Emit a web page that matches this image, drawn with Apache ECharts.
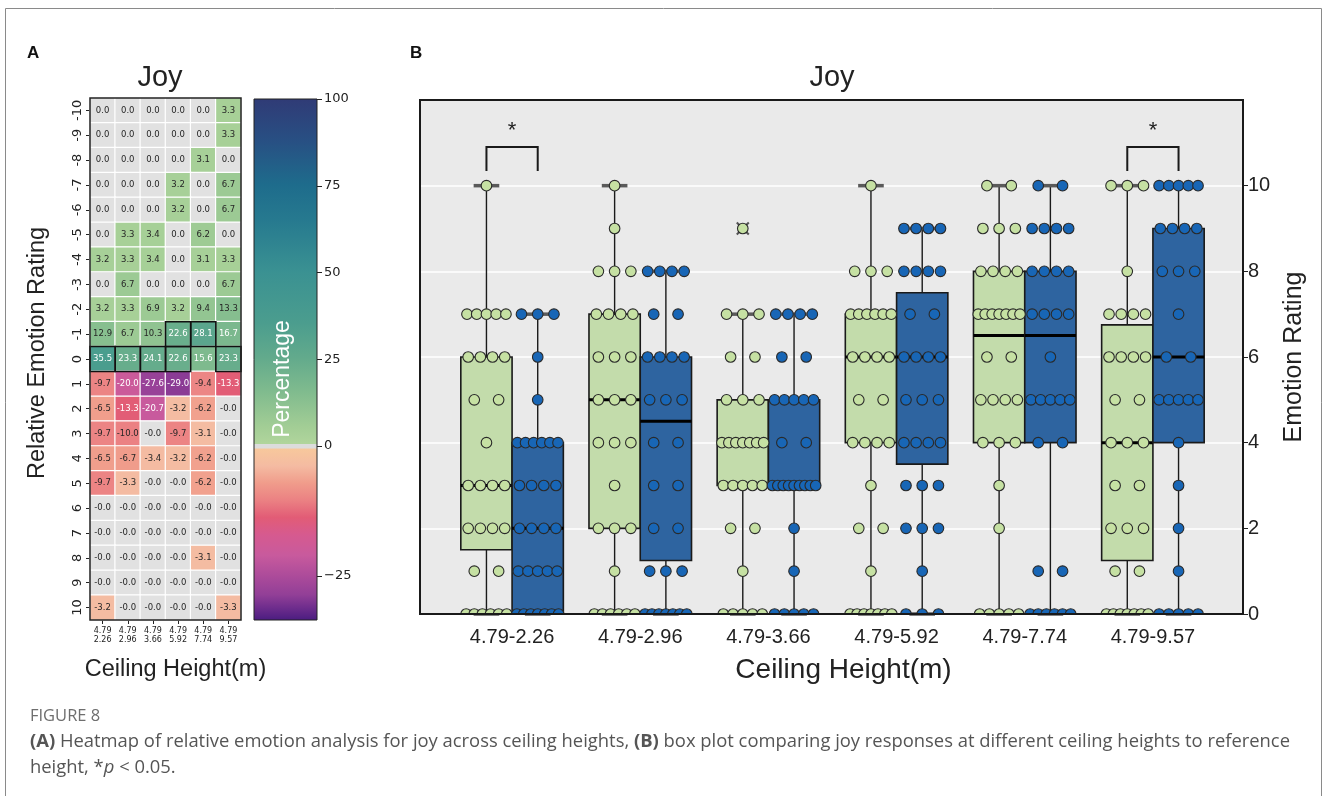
<!DOCTYPE html>
<html><head><meta charset="utf-8">
<script src="https://cdn.jsdelivr.net/npm/echarts@6/dist/echarts.min.js"></script>
<style>html,body{margin:0;padding:0;background:#fff}#c{width:1328px;height:796px}</style>
</head><body><div id="c"></div>
<script>
// ---------------- DATA ----------------
const refHeight = '4.79';
const heights = ['2.26', '2.96', '3.66', '5.92', '7.74', '9.57'];
const ratingRows = [-10,-9,-8,-7,-6,-5,-4,-3,-2,-1,0,1,2,3,4,5,6,7,8,9,10];
// heatmap percentages, one row per relative rating (-10 .. 10), one column per height
const heatRows = [
  [0.0, 0.0, 0.0, 0.0, 0.0, 3.3],
  [0.0, 0.0, 0.0, 0.0, 0.0, 3.3],
  [0.0, 0.0, 0.0, 0.0, 3.1, 0.0],
  [0.0, 0.0, 0.0, 3.2, 0.0, 6.7],
  [0.0, 0.0, 0.0, 3.2, 0.0, 6.7],
  [0.0, 3.3, 3.4, 0.0, 6.2, 0.0],
  [3.2, 3.3, 3.4, 0.0, 3.1, 3.3],
  [0.0, 6.7, 0.0, 0.0, 0.0, 6.7],
  [3.2, 3.3, 6.9, 3.2, 9.4, 13.3],
  [12.9, 6.7, 10.3, 22.6, 28.1, 16.7],
  [35.5, 23.3, 24.1, 22.6, 15.6, 23.3],
  [-9.7, -20.0, -27.6, -29.0, -9.4, -13.3],
  [-6.5, -13.3, -20.7, -3.2, -6.2, -0.0],
  [-9.7, -10.0, -0.0, -9.7, -3.1, -0.0],
  [-6.5, -6.7, -3.4, -3.2, -6.2, -0.0],
  [-9.7, -3.3, -0.0, -0.0, -6.2, -0.0],
  [-0.0, -0.0, -0.0, -0.0, -0.0, -0.0],
  [-0.0, -0.0, -0.0, -0.0, -0.0, -0.0],
  [-0.0, -0.0, -0.0, -0.0, -3.1, -0.0],
  [-0.0, -0.0, -0.0, -0.0, -0.0, -0.0],
  [-3.2, -0.0, -0.0, -0.0, -0.0, -3.3]
];
const highlightAbove = 20;          // cells outlined in black
const cbMax = 100, cbMin = -33.5;   // colour-bar range (two-slope)
const cbTicksNeg = [-25];

// box plot: [min, Q1, median, Q3, max] per height
const boxGreen = [[0,1.5,3,6,10],[0,2,5,7,10],[0,3,4,5,7],[0,4,6,7,10],[0,4,6.5,8,10],[0,1.25,4,6.75,10]];
const boxBlue  = [[0,0,2,4,7],[0,1.25,4.5,6,8],[0,3,3,5,7],[0,3.5,6,7.5,9],[0,4,6.5,8,10],[0,4,6,9,10]];
const outliersGreen = [[2, 9]];
const sigGroups = [0, 5];
const bracketLevel = 10.9;
const yTicks = [0, 2, 4, 6, 8, 10];
// individual ratings (strip points)
const ptsGreen = [
  [0,0,0,0,0,0,1,1,2,2,2,2,3,3,3,3,4,5,5,6,6,6,6,7,7,7,7,7,10],
  [0,0,0,0,0,0,1,2,2,2,3,4,4,4,5,5,5,6,6,6,7,7,7,7,8,8,8,9,10],
  [0,0,0,0,0,1,2,2,3,3,3,3,3,4,4,4,4,4,4,4,5,5,5,6,6,7,7,7,9],
  [0,0,0,0,0,0,0,1,2,2,3,4,4,4,4,5,5,6,6,6,6,7,7,7,7,7,7,8,8,8,10],
  [0,0,0,0,0,2,3,4,4,4,5,5,5,5,6,6,7,7,7,7,7,7,7,8,8,8,8,9,9,9,10,10],
  [0,0,0,0,0,0,0,1,1,2,2,2,3,3,4,4,4,5,5,6,6,6,6,7,7,7,7,8,10,10,10]
];
const ptsBlue = [
  [0,0,0,0,0,0,0,1,1,1,1,1,2,2,2,2,3,3,3,3,4,4,4,4,4,4,5,6,7,7,7],
  [0,0,0,0,0,0,0,1,1,1,2,2,3,3,4,4,5,5,5,6,6,6,6,7,7,8,8,8,8],
  [0,0,0,0,0,1,2,3,3,3,3,3,3,3,3,3,4,4,5,5,5,5,5,6,6,7,7,7,7],
  [0,0,0,1,2,2,2,3,3,3,4,4,4,4,5,5,5,6,6,6,6,7,7,8,8,8,8,9,9,9,9],
  [0,0,0,0,0,0,1,1,4,4,5,5,5,5,5,6,7,7,7,7,8,8,8,8,9,9,9,9,10,10],
  [0,0,0,0,0,1,2,3,4,5,5,5,5,5,6,6,7,8,8,8,9,9,9,9,10,10,10,10,10]
];

// ---------------- COLOURS ----------------
const posStops = [[0,'#b0d59c'],[0.05,'#a2cd95'],[0.15,'#80bb8e'],[0.25,'#62aa8c'],[0.35,'#4b9d8e'],[0.5,'#3a9192'],[0.65,'#26798f'],[0.75,'#1e6c8c'],[0.88,'#284f83'],[1,'#303b76']];
const negStops = [[0,'#f7c89c'],[0.1,'#f4bba2'],[0.2,'#f09c8b'],[0.3,'#eb8183'],[0.4,'#e25c76'],[0.5,'#d65a8f'],[0.62,'#c85a9d'],[0.75,'#aa4a9a'],[0.85,'#923f97'],[0.93,'#6c2c8c'],[1,'#4a1c80']];
const zeroColor = '#e1e1e1';
const GREEN_BOX = '#c3dcab', BLUE_BOX = '#2e64a0', GREEN_PT = '#c6e1a3', BLUE_PT = '#1866b6';

function rgb(h){return [1,3,5].map(i=>parseInt(h.slice(i,i+2),16));}
function interp(stops,t){
  t=Math.max(0,Math.min(1,t));
  for(let i=1;i<stops.length;i++){
    if(t<=stops[i][0]){
      const a=stops[i-1],b=stops[i],u=(t-a[0])/(b[0]-a[0]);
      const ca=rgb(a[1]),cb=rgb(b[1]);
      return 'rgb('+ca.map((c,k)=>Math.round(c+(cb[k]-c)*u)).join(',')+')';
    }
  }
  return stops[stops.length-1][1];
}
function cellColor(v){
  if(v===0) return zeroColor;
  return v>0 ? interp(posStops, v/cbMax) : interp(negStops, v/cbMin);
}
function fmt(v){return (Object.is(v,-0)||v<0?'-':'')+Math.abs(v).toFixed(1);}

// heatmap items
const heatData = [];
const hlData = [];
heatRows.forEach((row,r)=>row.forEach((v,c)=>{
  heatData.push({value:[c,r,v], txt:fmt(v), itemStyle:{color:cellColor(v)},
    label:{color:(v>15||v<-12)?'#ffffff':'#262626'}});
  if(v>highlightAbove) hlData.push([c,r]);
}));

// colour-bar layout (two slopes) and gradient built from the same colour maps
const CB_TOP = 99, CB_UP_H = 347, CB_LO_H = 174;
const zeroFrac = CB_UP_H/(CB_UP_H+CB_LO_H);
const cbStops = [];
posStops.slice().reverse().forEach(s=>cbStops.push({offset:(1-s[0])*(zeroFrac-0.005), color:s[1]}));
cbStops.push({offset:zeroFrac-0.004, color:'#dcdcdc'});
cbStops.push({offset:zeroFrac+0.004, color:'#dcdcdc'});
negStops.forEach(s=>cbStops.push({offset:zeroFrac+0.005+s[0]*(1-zeroFrac-0.005), color:s[1]}));

// strip points: spread equal ratings across the box width
function buildPts(lists){
  const out=[];
  lists.forEach((vals,g)=>{
    const counts={};vals.forEach(v=>counts[v]=(counts[v]||0)+1);
    const seen={};
    vals.forEach(v=>{
      const k=counts[v],i=(seen[v]=(seen[v]||0)+1)-1;
      const f=k===1?0:((i+0.5)/k-0.5);
      out.push([g,v,f]);
    });
  });
  return out;
}
const boxCats = heights.map(h=>refHeight+'-'+h);
const heatXLabels = heights.map(h=>refHeight+'\n'+h);

// ---------------- RENDER HELPERS ----------------
const BOXFRAC = 0.4;
function boxRender(side, fill){
  return function(params, api){
    const g=api.value(0);
    const mn=api.value(1),q1=api.value(2),md=api.value(3),q3=api.value(4),mx=api.value(5);
    const band=api.size([1,0])[0], bw=band*BOXFRAC;
    const cx=api.coord([g,0])[0]+side*bw/2;
    const y=v=>api.coord([g,v])[1];
    const capW=bw*0.5;
    return {type:'group',children:[
      {type:'line',shape:{x1:cx,y1:y(mn),x2:cx,y2:y(q1)},style:{stroke:'#1a1a1a',lineWidth:1.4}},
      {type:'line',shape:{x1:cx,y1:y(q3),x2:cx,y2:y(mx)},style:{stroke:'#1a1a1a',lineWidth:1.4}},
      {type:'rect',shape:{x:cx-bw/2,y:y(q3),width:bw,height:y(q1)-y(q3)},style:{fill:fill,stroke:'#1a1a1a',lineWidth:1.6}},
      {type:'line',shape:{x1:cx-bw/2,y1:y(md),x2:cx+bw/2,y2:y(md)},style:{stroke:'#000',lineWidth:3}},
      {type:'line',shape:{x1:cx-capW/2,y1:y(mx),x2:cx+capW/2,y2:y(mx)},style:{stroke:'#5a5a5a',lineWidth:3.5}},
      {type:'line',shape:{x1:cx-capW/2,y1:y(mn),x2:cx+capW/2,y2:y(mn)},style:{stroke:'#5a5a5a',lineWidth:3.5}}
    ]};
  };
}
function ptRender(side, fill){
  return function(params, api){
    const g=api.value(0),v=api.value(1),f=api.value(2);
    const band=api.size([1,0])[0], bw=band*BOXFRAC;
    const p=api.coord([g,v]);
    return {type:'circle',shape:{cx:p[0]+side*bw/2+f*bw*0.95,cy:p[1],r:5.3},
      style:{fill:fill,stroke:'#2a2a2a',lineWidth:1.1}};
  };
}

const chart = echarts.init(document.getElementById('c'), null, {renderer:'canvas'});
const F = 'Liberation Sans, Arial, sans-serif';
const DJ = 'DejaVu Sans, sans-serif';
const CAP = 'Open Sans, sans-serif';

const option = {
  backgroundColor:'#ffffff',
  animation:false,
  grid:[
    {left:90, top:98, width:151, height:522},
    {left:254, top:CB_TOP, width:63, height:CB_UP_H},
    {left:254, top:CB_TOP+CB_UP_H, width:63, height:CB_LO_H},
    {left:420, top:100, width:823, height:514, show:true, backgroundColor:'#eaeaea', borderWidth:0},
    {left:448, top:100, width:769, height:514}
  ],
  xAxis:[
    {gridIndex:0, type:'category', data:heatXLabels, axisLine:{show:false},
     axisTick:{show:true, alignWithLabel:true, length:4, lineStyle:{color:'#222'}},
     axisLabel:{fontSize:8, lineHeight:9, color:'#222', fontFamily:DJ, margin:6, interval:0},
     name:'Ceiling Height(m)', nameLocation:'middle', nameGap:38,
     nameTextStyle:{fontSize:23.5, color:'#222', fontFamily:F, padding:[0,0,0,20]}},
    {gridIndex:1, type:'value', show:false, min:0, max:1},
    {gridIndex:2, type:'value', show:false, min:0, max:1},
    {gridIndex:3, type:'value', show:false, min:0, max:1},
    {gridIndex:4, type:'category', data:boxCats, boundaryGap:true,
     axisLine:{show:false}, axisTick:{show:false},
     axisLabel:{fontSize:20, color:'#222', fontFamily:F, margin:13},
     name:'Ceiling Height(m)', nameLocation:'middle', nameGap:42,
     nameTextStyle:{fontSize:28, color:'#222', fontFamily:F, padding:[0,0,0,22]}}
  ],
  yAxis:[
    {gridIndex:0, type:'category', data:ratingRows.map(String), inverse:true, axisLine:{show:false},
     axisTick:{show:true, alignWithLabel:true, length:4, lineStyle:{color:'#222'}},
     axisLabel:{rotate:90, fontSize:13, color:'#222', fontFamily:DJ, margin:6, interval:0},
     name:'Relative Emotion Rating', nameLocation:'middle', nameGap:40, nameRotate:90,
     nameTextStyle:{fontSize:23.5, color:'#222', fontFamily:F, padding:[0,0,0,12]}},
    {gridIndex:1, type:'value', min:0, max:cbMax, interval:25, position:'right',
     axisLine:{show:false, onZero:false}, splitLine:{show:false},
     axisTick:{show:true, length:5, lineStyle:{color:'#222'}},
     axisLabel:{fontSize:13, color:'#222', fontFamily:DJ, margin:7}},
    {gridIndex:2, type:'value', min:cbMin, max:0, position:'right',
     axisLine:{show:false, onZero:false}, splitLine:{show:false},
     axisTick:{show:true, length:5, customValues:cbTicksNeg, lineStyle:{color:'#222'}},
     axisLabel:{fontSize:13, color:'#222', fontFamily:DJ, margin:7, customValues:cbTicksNeg,
       formatter:v=>String(v).replace('-', '\u2212')}},
    {gridIndex:3, type:'value', min:0, max:12, interval:2, position:'right',
     axisLine:{show:false, onZero:false},
     splitLine:{show:true, lineStyle:{color:'#ffffff', width:1.6}},
     axisTick:{show:true, length:5, customValues:yTicks, lineStyle:{color:'#222'}},
     axisLabel:{fontSize:20, color:'#222', fontFamily:F, margin:5, customValues:yTicks},
     name:'Emotion Rating', nameLocation:'middle', nameGap:38, nameRotate:90,
     nameTextStyle:{fontSize:25, color:'#222', fontFamily:F}},
    {gridIndex:4, type:'value', min:0, max:12, show:false}
  ],
  series:[
    {type:'heatmap', xAxisIndex:0, yAxisIndex:0, data:heatData,
     itemStyle:{borderColor:'#ffffff', borderWidth:1.2},
     label:{show:true, fontSize:8.5, fontFamily:DJ, formatter:p=>p.data.txt},
     emphasis:{disabled:true}},
    {type:'custom', xAxisIndex:0, yAxisIndex:0, data:hlData, z:5,
     renderItem:(params,api)=>{
       const p=api.coord([api.value(0),api.value(1)]); const s=api.size([1,1]);
       return {type:'rect',shape:{x:p[0]-s[0]/2,y:p[1]-s[1]/2,width:s[0],height:s[1]},
         style:{fill:'none',stroke:'#111',lineWidth:1.6}};
     }},
    {type:'custom', xAxisIndex:4, yAxisIndex:4, data:boxGreen.map((b,g)=>[g].concat(b)), renderItem:boxRender(-1,GREEN_BOX), z:2},
    {type:'custom', xAxisIndex:4, yAxisIndex:4, data:boxBlue.map((b,g)=>[g].concat(b)), renderItem:boxRender(1,BLUE_BOX), z:2},
    {type:'custom', xAxisIndex:4, yAxisIndex:4, data:outliersGreen, z:3,
     renderItem:(params,api)=>{
       const band=api.size([1,0])[0], bw=band*BOXFRAC;
       const p=api.coord([api.value(0),api.value(1)]); const cx=p[0]-bw/2, d=6;
       return {type:'group',children:[
         {type:'line',shape:{x1:cx-d,y1:p[1]-d,x2:cx+d,y2:p[1]+d},style:{stroke:'#555',lineWidth:2}},
         {type:'line',shape:{x1:cx-d,y1:p[1]+d,x2:cx+d,y2:p[1]-d},style:{stroke:'#555',lineWidth:2}}]};
     }},
    {type:'custom', xAxisIndex:4, yAxisIndex:4, data:buildPts(ptsGreen), renderItem:ptRender(-1,GREEN_PT), z:4, clip:true},
    {type:'custom', xAxisIndex:4, yAxisIndex:4, data:buildPts(ptsBlue), renderItem:ptRender(1,BLUE_PT), z:4, clip:true},
    {type:'custom', xAxisIndex:4, yAxisIndex:4, data:sigGroups.map(g=>[g,bracketLevel]), z:4,
     renderItem:(params,api)=>{
       const band=api.size([1,0])[0], bw=band*BOXFRAC;
       const p=api.coord([api.value(0),api.value(1)]);
       const x1=p[0]-bw/2, x2=p[0]+bw/2, leg=24;
       return {type:'group',children:[
         {type:'polyline',shape:{points:[[x1,p[1]+leg],[x1,p[1]],[x2,p[1]],[x2,p[1]+leg]]},style:{stroke:'#1a1a1a',lineWidth:2,fill:'none'}},
         {type:'text',style:{text:'*',x:p[0],y:p[1]-16,align:'center',verticalAlign:'middle',font:'22px '+F,fill:'#222'}}]};
     }}
  ],
  graphic:[
    {type:'rect', shape:{x:5.5,y:8.5,width:1316,height:800}, style:{fill:'none',stroke:'#8a8a8a',lineWidth:1}, z:-10, silent:true},
    {type:'rect', shape:{x:90,y:98,width:151,height:522}, style:{fill:'none',stroke:'#222',lineWidth:1.5}, z:100, silent:true},
    {type:'rect', shape:{x:254,y:CB_TOP,width:63,height:CB_UP_H+CB_LO_H},
     style:{fill:new echarts.graphic.LinearGradient(0,0,0,1,cbStops),stroke:'#222',lineWidth:1}, z:-1, silent:true},
    {type:'rect', shape:{x:420,y:100,width:823,height:514}, style:{fill:'none',stroke:'#1a1a1a',lineWidth:2}, z:100, silent:true},
    {type:'text', x:283, y:379, rotation:Math.PI/2, z:100,
     style:{text:'Percentage',font:'23px '+F,fill:'#ffffff',align:'center',verticalAlign:'middle'}},
    {type:'text', x:160, y:78, z:100, style:{text:'Joy',font:'29px '+F,fill:'#222',align:'center',verticalAlign:'middle'}},
    {type:'text', x:832, y:78, z:100, style:{text:'Joy',font:'29px '+F,fill:'#222',align:'center',verticalAlign:'middle'}},
    {type:'text', x:27, y:53, z:100, style:{text:'A',font:'bold 17px '+F,fill:'#111',align:'left',verticalAlign:'middle'}},
    {type:'text', x:410, y:53, z:100, style:{text:'B',font:'bold 17px '+F,fill:'#111',align:'left',verticalAlign:'middle'}},
    {type:'text', x:30, y:716, z:100, style:{text:'FIGURE 8',font:'16.5px '+CAP,fill:'#6e6e6e',align:'left',verticalAlign:'middle'}},
    {type:'text', x:30, y:742, z:100, style:{
      text:'{b|(A)} Heatmap of relative emotion analysis for joy across ceiling heights, {b|(B)} box plot comparing joy responses at different ceiling heights to reference',
      font:'18.4px '+CAP,fill:'#555',align:'left',verticalAlign:'middle',
      rich:{b:{fontWeight:'bold',fontSize:18.4,fontFamily:CAP,fill:'#555'}}}},
    {type:'text', x:30, y:768, z:100, style:{
      text:'height, *{i|p} < 0.05.',
      font:'18.4px '+CAP,fill:'#555',align:'left',verticalAlign:'middle',
      rich:{i:{fontStyle:'italic',fontSize:18.4,fontFamily:CAP,fill:'#555'}}}}
  ]
};
chart.setOption(option);
</script>
</body></html>
